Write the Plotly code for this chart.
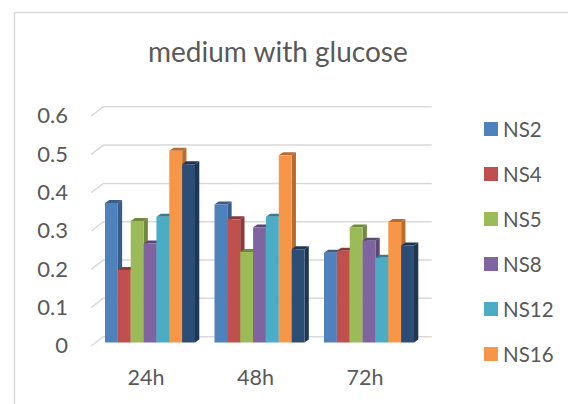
import plotly.graph_objects as go

title = "medium with glucose"
categories = ["24h", "48h", "72h"]
y_ticks = [0, 0.1, 0.2, 0.3, 0.4, 0.5, 0.6]
y_labels = ["0", "0.1", "0.2", "0.3", "0.4", "0.5", "0.6"]

NS2 = [0.364, 0.360, 0.234]
NS4 = [0.189, 0.321, 0.239]
NS5 = [0.317, 0.236, 0.300]
NS8 = [0.258, 0.300, 0.265]
NS12 = [0.328, 0.328, 0.221]
NS16 = [0.500, 0.488, 0.314]
NS19 = [0.465, 0.243, 0.253]

names = ["NS2", "NS4", "NS5", "NS8", "NS12", "NS16", "NS19"]
series = [NS2, NS4, NS5, NS8, NS12, NS16, NS19]
front_colors = ["#4f81bd", "#c0504d", "#9bbb59", "#8064a2", "#4bacc6", "#f79646", "#2c4d75"]
side_colors = ["#385d8a", "#8c3a38", "#71893f", "#5c4776", "#357d91", "#b66d31", "#1e3652"]
legend_count = 6

W, H = 568, 404
PX_X0, PX_PER_CAT = 150.0, 109.5   # pixel of category 0, pixels per category
PX_Y0, PX_PER_UNIT = 342.4, 383.3  # pixel of value 0, pixels per unit
L, R, T, B = 85, 440, 100, 352

xr = [(L - PX_X0) / PX_PER_CAT, (R - PX_X0) / PX_PER_CAT]
yr = [(PX_Y0 - B) / PX_PER_UNIT, (PX_Y0 - T) / PX_PER_UNIT]

BARGAP = 0.178
bar_w = (1 - BARGAP) / len(series)
bar_dx, bar_dy = 4.3 / PX_PER_CAT, 3.0 / PX_PER_UNIT      # bar depth
wall_dx, wall_dy = 8.0 / PX_PER_CAT, 5.7 / PX_PER_UNIT    # bar plane to back wall
floor_dx, floor_dy = -4.0 / PX_PER_CAT, -3.6 / PX_PER_UNIT  # bar plane to front edge
grid_right = 2.5 + wall_dx
x_label_shift = -4.0 / PX_PER_CAT    # tick labels sit on the front edge of the floor
y_label_shift = -3.3 / PX_PER_UNIT

fig = go.Figure()

# gridlines on the back wall plus their diagonals on the side wall
gx, gy = [], []
for t in y_ticks:
    gx += [-0.5 + floor_dx, -0.5 + wall_dx, grid_right, None]
    gy += [t + floor_dy, t + wall_dy, t + wall_dy, None]
fig.add_trace(go.Scatter(x=gx, y=gy, mode="lines", line=dict(color="#d9d9d9", width=1.5),
                         hoverinfo="skip", showlegend=False))

# top and side faces
for i, vals in enumerate(series):
    for c, v in enumerate(vals):
        x0 = c - (1 - BARGAP) / 2 + i * bar_w
        x1 = x0 + bar_w
        fig.add_trace(go.Scatter(
            x=[x1, x1 + bar_dx, x1 + bar_dx, x1, x1],
            y=[0, bar_dy, v + bar_dy, v, 0],
            mode="lines", fill="toself", fillcolor=side_colors[i], line=dict(width=0),
            hoverinfo="skip", showlegend=False))
        fig.add_trace(go.Scatter(
            x=[x0, x1, x1 + bar_dx, x0 + bar_dx, x0],
            y=[v, v, v + bar_dy, v + bar_dy, v],
            mode="lines", fill="toself", fillcolor=side_colors[i], line=dict(width=0),
            hoverinfo="skip", showlegend=False))

# front faces on an overlaid pair of axes so they sit above the side faces
for i, vals in enumerate(series):
    fig.add_trace(go.Bar(x=[0, 1, 2], y=vals, name=names[i], xaxis="x2", yaxis="y2",
                         marker=dict(color=front_colors[i], line=dict(width=0)),
                         showlegend=False))

TEXT = "#595959"
FONT = "Lato"
FRAME = "#d9d9d9"

def px(p):
    return (p - L) / (R - L)

def py(p):
    return (B - p) / (B - T)

shapes = [dict(type="line", xref="paper", yref="paper", x0=px(14.5), x1=px(14.5),
               y0=py(12.5), y1=py(404), line=dict(color=FRAME, width=1.5)),
          dict(type="line", xref="paper", yref="paper", x0=px(14.5), x1=px(568),
               y0=py(12.5), y1=py(12.5), line=dict(color=FRAME, width=1.5))]
annotations = []
for i in range(legend_count):
    cy = 129 + 45 * i
    shapes.append(dict(type="rect", xref="paper", yref="paper",
                       x0=px(484), x1=px(498), y0=py(cy + 7), y1=py(cy - 7),
                       fillcolor=front_colors[i], line=dict(width=0)))
    annotations.append(dict(text=names[i], xref="paper", yref="paper",
                            x=px(501), y=py(cy), xanchor="left", yanchor="middle",
                            showarrow=False, font=dict(family=FONT, size=20.5, color=TEXT)))
annotations.append(dict(text=title, xref="paper", yref="paper",
                        x=px(278), y=py(50.5), xanchor="center", yanchor="middle",
                        showarrow=False, font=dict(family=FONT, size=28, color=TEXT)))

fig.update_layout(
    width=W, height=H, autosize=False,
    margin=dict(l=L, r=W - R, t=T, b=H - B, pad=0),
    paper_bgcolor="white", plot_bgcolor="white",
    barmode="group", bargap=BARGAP, bargroupgap=0,
    shapes=shapes, annotations=annotations, showlegend=False,
    font=dict(family=FONT, color=TEXT),
    xaxis=dict(range=xr, tickmode="array",
               tickvals=[c + x_label_shift for c in range(len(categories))], ticktext=categories,
               showgrid=False, zeroline=False, showline=False, ticks="",
               ticklabelstandoff=10, tickfont=dict(family=FONT, size=21.5, color=TEXT)),
    yaxis=dict(range=yr, tickmode="array",
               tickvals=[t + y_label_shift for t in y_ticks], ticktext=y_labels,
               showgrid=False, zeroline=False, showline=False, ticks="",
               ticklabelstandoff=16, tickfont=dict(family=FONT, size=22, color=TEXT)),
    xaxis2=dict(range=xr, overlaying="x", visible=False),
    yaxis2=dict(range=yr, overlaying="y", visible=False),
)

fig.write_html("out.html", config={"displayModeBar": False},
               post_script="document.body.style.margin='0';")
